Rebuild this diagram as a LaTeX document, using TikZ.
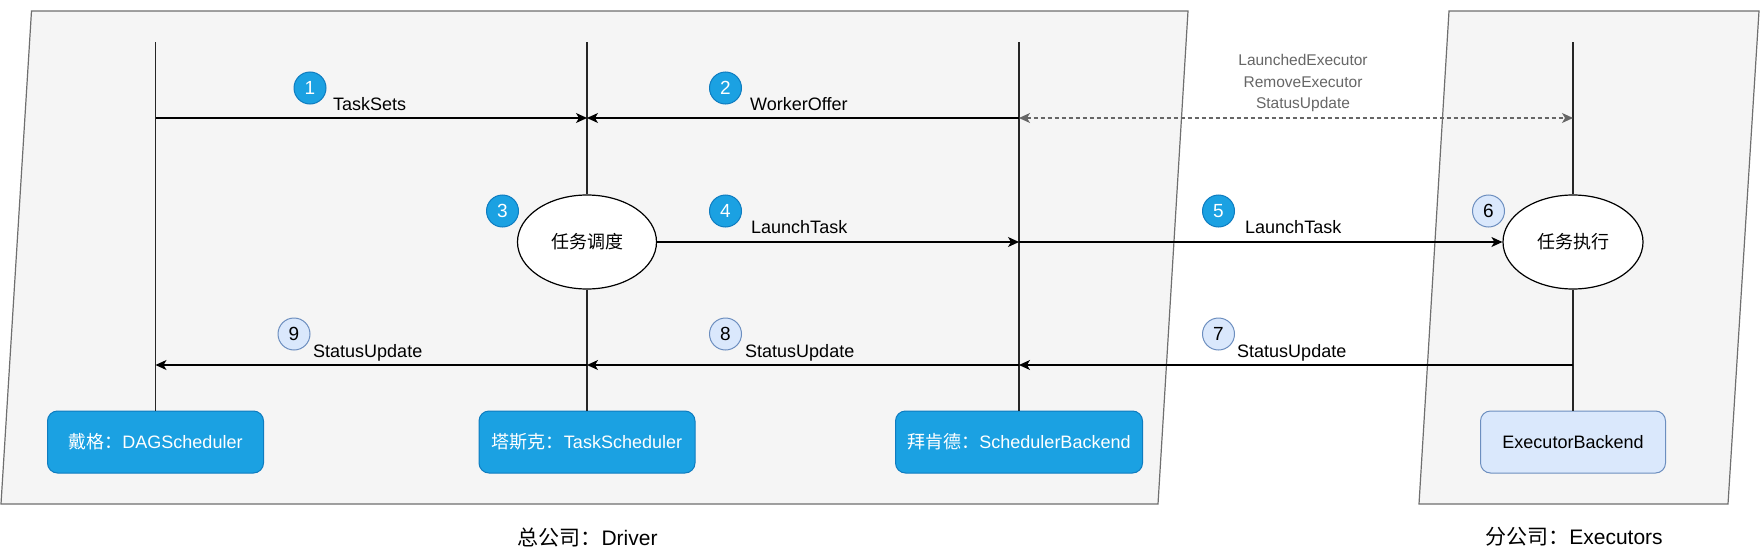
\documentclass[tikz,border=0pt]{standalone}
\usepackage{fontspec}
\setmainfont{Liberation Sans}
\newfontfamily\cjk{Noto Sans CJK SC}
\usetikzlibrary{arrows.meta,shapes.geometric}
\definecolor{regfill}{HTML}{F5F5F5}
\definecolor{regline}{HTML}{6F6F6F}
\definecolor{dkblue}{HTML}{1BA1E2}
\definecolor{dkline}{HTML}{0E7CC0}
\definecolor{ltblue}{HTML}{DAE8FC}
\definecolor{ltline}{HTML}{6C8EBF}
\definecolor{greytxt}{HTML}{666666}
\tikzset{
  region/.style={fill=regfill, draw=regline, line width=1.2pt},
  lifeline/.style={draw=black!85, line width=1.2pt},
  tip/.tip={Stealth[length=11pt,width=10pt,inset=3pt]},
  msg/.style={draw=black, line width=1.2pt, -tip},
  dmsg/.style={draw=greytxt, line width=1.2pt, dash pattern=on 4pt off 3pt, tip-tip},
  badge/.style={circle, minimum size=32pt, inner sep=0pt, fill=dkblue, draw=dkline, line width=1pt, text=white, font=\fontsize{19}{22}\selectfont},
  lbadge/.style={badge, fill=ltblue, draw=ltline, text=black},
  lbl/.style={anchor=base west, inner sep=0pt, font=\fontsize{18}{22}\selectfont},
  glbl/.style={align=center, inner sep=0pt, text=greytxt, font=\fontsize{15.5}{21.3}\selectfont},
  actor/.style={rounded corners=10pt, draw=dkline, fill=dkblue, text=white, line width=1pt, minimum height=62pt, inner sep=0pt, font=\fontsize{18}{22}\selectfont},
  lactor/.style={actor, fill=ltblue, draw=ltline, text=black},
  work/.style={ellipse, draw=black, fill=white, line width=1.2pt, inner sep=0pt, minimum width=139pt, minimum height=94pt, font=\fontsize{18}{22}\selectfont\cjk},
  caption/.style={inner sep=0pt, font=\fontsize{21}{25}\selectfont},
}
\begin{document}
\begin{tikzpicture}[x=1pt,y=-1pt]
\useasboundingbox (0,0) rectangle (1764,554);
\fill[white] (0,0) rectangle (1764,554);
% regions
\draw[region] (31.5,11) -- (1188,11) -- (1158,504) -- (1,504) -- cycle;
\draw[region] (1449,11) -- (1759,11) -- (1728,504) -- (1419,504) -- cycle;
% actors
\node[actor, minimum width=216pt] (dag) at (155.5,442) {{\cjk 戴格：}DAGScheduler};
\node[actor, minimum width=216pt] (ts) at (587,442) {{\cjk 塔斯克：}TaskScheduler};
\node[actor, minimum width=247pt] (sb) at (1019,442) {{\cjk 拜肯德：}SchedulerBackend};
\node[lactor, minimum width=185pt] (eb) at (1573,442) {ExecutorBackend};
% lifeline tops
\coordinate (t1) at (155.5,42);
\coordinate (t2) at (587,42);
\coordinate (t3) at (1019,42);
\coordinate (t4) at (1573,42);
% work ellipses
\node[work] (e1) at (587,242) {任务调度};
\node[work, minimum width=140pt] (e2) at (1573,242) {任务执行};
% lifelines
\draw[lifeline] (t1) -- (dag.north);
\draw[lifeline] (t2) -- (e1.north);
\draw[lifeline] (e1.south) -- (ts.north);
\draw[lifeline] (t3) -- (sb.north);
\draw[lifeline] (t4) -- (e2.north);
\draw[lifeline] (e2.south) -- (eb.north);
% message points
\coordinate (a1) at (155.5,118);
\coordinate (a2) at (587,118);
\coordinate (a3) at (1019,118);
\coordinate (a4) at (1573,118);
\coordinate (b3) at (1019,242);
\coordinate (c1) at (155.5,365);
\coordinate (c2) at (587,365);
\coordinate (c3) at (1019,365);
\coordinate (c4) at (1573,365);
% messages
\draw[msg] (a1) -- (a2);
\draw[msg] (a3) -- (a2);
\draw[dmsg] (a3) -- (a4);
\draw[msg] (e1.east) -- (b3);
\draw[msg] (b3) -- (e2.west);
\draw[msg] (c4) -- (c3);
\draw[msg] (c3) -- (c2);
\draw[msg] (c2) -- (c1);
% labels
\node[lbl] (l1) at (333,110) {TaskSets};
\node[lbl] (l2) at (750,110) {WorkerOffer};
\node[lbl] (l4) at (751,233) {LaunchTask};
\node[lbl] (l5) at (1245,233) {LaunchTask};
\node[lbl] (l9) at (313,357) {StatusUpdate};
\node[lbl] (l8) at (745,357) {StatusUpdate};
\node[lbl] (l7) at (1237,357) {StatusUpdate};
\node[glbl] (gl) at (1303,83) {LaunchedExecutor\\RemoveExecutor\\StatusUpdate};
% badges
\node[badge] (n1) at (310,88) {1};
\node[badge] (n2) at (725.5,88) {2};
\node[badge] (n3) at (502.5,211) {3};
\node[badge] (n4) at (725.5,211) {4};
\node[badge] (n5) at (1218.5,211) {5};
\node[lbadge] (n6) at (1488.5,211) {6};
\node[lbadge] (n7) at (1218.5,334) {7};
\node[lbadge] (n8) at (725.5,334) {8};
\node[lbadge] (n9) at (294,334) {9};
% captions
\node[caption] (cd) at (587.5,537) {{\cjk 总公司：}Driver};
\node[caption] (ce) at (1574,537) {{\cjk 分公司：}Executors};
\end{tikzpicture}
\end{document}
